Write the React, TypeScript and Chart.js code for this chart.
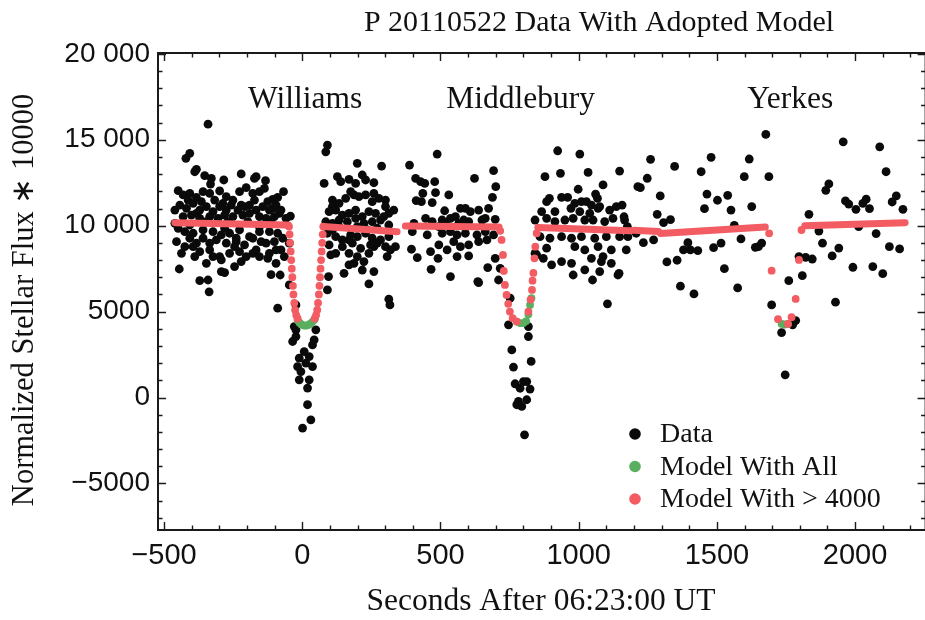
import React, { useEffect, useRef } from 'react';
import { Chart, registerables } from 'chart.js';

Chart.register(...registerables);

type Pt = [number, number];

// ---------- text ----------
const TITLE = 'P 20110522 Data With Adopted Model';
const X_TITLE = 'Seconds After 06:23:00 UT';
const Y_TITLE = 'Normalized Stellar Flux \u2217 10000';
const stationNames = ['Williams', 'Middlebury', 'Yerkes'];
const stationLabelX = [10, 790, 1765];
const stationLabelY = 16850;
const legendLabels = ['Data', 'Model With All', 'Model With > 4000'];

// ---------- axes ----------
const xRange = [-522, 2255];
const yRange = [-7710, 20050];
const xTickValues = [-500, 0, 500, 1000, 1500, 2000];
const xTickLabels = ['\u2212500', '0', '500', '1000', '1500', '2000'];
const yTickValues = [-5000, 0, 5000, 10000, 15000, 20000];
const yTickLabels = ['\u22125000', '0', '5000', '10 000', '15 000', '20 000'];
const xMinorStep = 100;
const yMinorStep = 1000;

// ---------- data: seconds, normalized flux ----------
const williamsData: Pt[] = [
  [-341, 15910], [-407, 14210], [-421, 13920], [-383, 13280], [-389, 13140], [-353, 12910], [-329, 12750], [-332, 12420], [-284, 12660], [-221, 13010], [-173, 12750], [-167, 12850], [-133, 12620],
  [-449, 12040], [-431, 11790], [-407, 11880], [-383, 11650], [-359, 11980], [-335, 11880], [-299, 12020], [-275, 11690], [-251, 11490], [-227, 11980], [-203, 12210], [-179, 11880], [-155, 11980], [-137, 12170], [-107, 11530], [-89, 11650], [-68, 11980],
  [-413, 11490], [-365, 11400], [-317, 11490], [-287, 11300], [-221, 11200], [-173, 11490], [-125, 11400], [-107, 11010],
  [-443, 11200], [-419, 11010], [-395, 11300], [-371, 10910], [-347, 11110], [-323, 10820], [-299, 11110], [-275, 10910], [-257, 11200], [-233, 10910], [-209, 11110], [-191, 11200], [-167, 10910], [-143, 11110], [-119, 10910], [-95, 11200], [-77, 10910],
  [-461, 10910], [-383, 10720], [-83, 10720],
  [-431, 10530], [-401, 10620], [-371, 10430], [-335, 10530], [-305, 10430], [-281, 10620], [-251, 10530], [-215, 10620], [-191, 10720], [-155, 10530], [-131, 10430], [-101, 10530], [-59, 10430], [-43, 10560],
  [-347, 10240], [-269, 10240], [-197, 10240], [-113, 10240], [-461, 10140], [-407, 10040],
  [-449, 9850], [-425, 9650], [-395, 9560], [-359, 9750], [-323, 9650], [-293, 9460], [-263, 9560], [-227, 9750], [-191, 9360], [-155, 9650], [-119, 9650], [-89, 9560], [-281, 9850], [-155, 9940],
  [-455, 9070], [-407, 9270], [-383, 8980], [-335, 8980], [-311, 9170], [-275, 8980], [-239, 9070], [-209, 8880], [-179, 9270], [-131, 8980], [-101, 9070], [-71, 9270], [-47, 8980], [-239, 9270], [-359, 9270], [-149, 9070],
  [-437, 8390], [-395, 8780], [-371, 8490], [-335, 8590], [-299, 8200], [-263, 8390], [-227, 8490], [-203, 8200], [-179, 8390], [-155, 8200], [-119, 8390], [-95, 8590], [-65, 8200], [-425, 8780], [-245, 8780], [-167, 8590], [-323, 8200], [-77, 8590],
  [-389, 8200], [-347, 7810], [-293, 8010], [-221, 7910], [-125, 8100], [-95, 7810],
  [-445, 7480], [-245, 7620], [-293, 7330], [-281, 7270], [-113, 7150], [-80, 7130],
  [-371, 6800], [-341, 6840], [-337, 6150], [-89, 5200], [-47, 6550], [-23, 5390],
  [-29, 4130], [-23, 3940], [-35, 3260], [-23, 3550], [49, 3940], [43, 3360], [37, 3060], [7, 2670], [-11, 2290], [25, 2380], [-17, 1800], [13, 2000], [37, 1800], [-5, 1510], [-11, 1030], [25, 1030], [19, 550], [19, -420], [31, -1300], [1, -1780],
  [91, 14690], [85, 14300], [199, 13630], [287, 13470], [79, 12460], [127, 12850], [139, 12560], [169, 12700], [193, 12460], [217, 12950], [229, 12660], [259, 12500], [175, 11980], [187, 11790], [109, 11490], [133, 11300], [157, 11590], [205, 11690], [229, 11790], [259, 11880], [277, 11590], [301, 11490], [331, 10910], [253, 11400], [301, 11110], [109, 11110],
  [97, 10820], [121, 10910], [145, 10620], [169, 10720], [193, 10910], [217, 10530], [241, 10820], [265, 10720], [295, 10530], [313, 10720],
  [85, 10230], [109, 10140], [133, 10330], [163, 10230], [193, 10430], [223, 10140], [253, 10230], [283, 10330], [313, 10040], [133, 9940], [199, 9940], [271, 9850], [109, 9750], [235, 9750],
  [91, 9560], [121, 9360], [145, 9170], [175, 9460], [199, 9360], [229, 9560], [253, 9270], [283, 9170], [313, 9360], [169, 9170],
  [97, 8880], [145, 8780], [181, 8980], [211, 8680], [247, 8880], [271, 8980], [319, 8590], [337, 8780], [259, 8780], [301, 8780],
  [103, 8300], [169, 8390], [199, 8200], [241, 8390], [307, 8200], [121, 8390],
  [169, 7720], [187, 7810], [151, 7230], [217, 7420], [259, 7330], [223, 7910],
  [95, 7040], [91, 6260], [241, 6610], [313, 5720], [317, 5390],
];

const middleburyData: Pt[] = [
  [488, 14170], [388, 13530], [692, 13200], [410, 12750], [428, 12560], [443, 12460], [479, 12560], [623, 12750], [700, 12270],
  [436, 11880], [412, 11460], [431, 11400], [482, 11920], [530, 11790], [470, 11340], [688, 11650],
  [572, 11010], [590, 11010], [608, 10820], [638, 10910], [674, 11010], [515, 10870],
  [446, 10430], [506, 10330], [536, 10430], [554, 10530], [584, 10330], [662, 10430], [698, 10370],
  [404, 10140], [470, 10240], [494, 9940], [518, 10140], [566, 10140], [602, 10240], [650, 10330],
  [398, 9650], [452, 9460], [506, 9560], [536, 9650], [560, 9460], [590, 9560], [632, 9460], [662, 9650], [692, 9460],
  [494, 8880], [524, 8590], [548, 9070], [572, 8780], [602, 8880], [638, 9070], [668, 9170],
  [395, 8630], [464, 8490], [491, 8100], [560, 8200], [602, 8240], [416, 8140], [466, 7460],
  [536, 7040], [635, 6750], [671, 7560], [710, 6840], [698, 8100], [716, 7520], [638, 6690],
  [752, 5780], [746, 4230], [818, 4130], [818, 3550], [758, 2770], [828, 2100], [764, 1770], [770, 800], [788, 540], [800, 930], [812, 930], [824, 490], [782, -230], [776, -420], [794, -520], [812, -130], [804, -2170],
  [924, 14360], [1004, 14170], [934, 13050], [1034, 13100], [1148, 13180], [878, 12850],
  [998, 12120], [1088, 12370], [1061, 11840], [1068, 11590], [1214, 12270],
  [894, 11590], [884, 11400], [938, 11650], [960, 11650], [986, 11300], [1010, 11400], [1028, 11400], [1046, 11200], [1076, 11110], [1136, 11110], [1157, 11200],
  [866, 10820], [914, 10820], [972, 11010], [1004, 10820], [1040, 10720], [1070, 11010], [1112, 10910],
  [842, 10330], [884, 10430], [914, 10240], [950, 10330], [980, 10430], [1022, 10330], [1052, 10330], [1094, 10240], [1124, 10430], [1166, 10330], [1164, 10520], [1176, 9940],
  [860, 9360], [896, 9270], [938, 9360], [974, 9270], [1010, 9360], [1058, 9270], [1100, 9360], [1148, 9360], [1178, 9360],
  [884, 8690], [986, 8780], [1022, 8590], [1070, 8780], [1118, 8590], [1172, 8590],
  [842, 8390], [848, 8300], [872, 8100], [938, 7910], [974, 7810], [1046, 8100], [1088, 8200], [1118, 7810],
  [902, 7720], [980, 7130], [1022, 7430], [1076, 7330], [1082, 7910], [1146, 7230],
  [1050, 6840], [1142, 7130], [1104, 5450],
];

const yerkesData: Pt[] = [
  [1677, 15310], [1957, 14880], [2089, 14590], [1260, 13860], [1479, 13980], [1617, 13880], [1347, 13450], [1443, 13140], [2112, 13140], [1599, 12850], [1688, 12850], [1248, 12760], [1223, 12210], [1905, 12430], [1894, 12060],
  [1295, 11730], [1464, 11840], [1539, 11770], [1502, 11480], [1965, 11440], [1977, 11260], [2040, 11540], [2028, 11300], [2149, 11740], [2134, 11380],
  [2003, 10950], [2052, 10990], [2173, 10950], [1455, 10990], [1551, 10910], [1626, 11110], [1284, 10660], [1833, 10660], [1307, 10180], [1332, 10350], [1563, 10020],
  [1869, 9690], [1208, 9560], [2013, 9940], [2076, 9540], [1234, 9010], [1271, 9170], [1395, 9010], [1379, 8590], [1404, 8590], [1431, 8550], [1488, 8720], [1515, 8990], [1587, 9230], [1639, 8740], [1650, 8780], [1662, 8990], [1882, 8980], [1941, 8700], [2124, 8780], [2161, 8650],
  [1319, 7890], [1356, 7990], [1797, 8200], [1821, 8160], [1845, 8060], [1917, 8240], [1527, 7500], [1992, 7580], [2064, 7620], [2100, 7210], [1809, 7090], [1760, 6800],
  [1368, 6480], [1575, 6380], [1417, 6030], [1929, 5550], [1698, 5390], [1785, 4480], [1734, 3780], [1774, 4230], [1747, 1320],
];

// model fitted with flux > 4000 (red): continuous baseline runs and dip points
const redBaseWilliamsLeft: Pt[] = [[-461, 10175], [-50, 10040]];
const redBaseWilliamsRight: Pt[] = [[76, 9950], [343, 9650]];
const redBaseMiddleburyLeft: Pt[] = [[373, 9980], [712, 9920]];
const redBaseMiddleburyRight: Pt[] = [[852, 9900], [1186, 9700]];
const redBaseMiddle: Pt[] = [[1200, 9730], [1289, 9660]];
const redBaseYerkesLeft: Pt[] = [[1296, 9540], [1675, 9920]];
const redBaseYerkesRight: Pt[] = [[1818, 9990], [2181, 10175]];

const redDipWilliams: Pt[] = [
  [-48, 9950], [-46, 9500], [-44, 9000], [-42, 8500], [-40, 8000], [-38, 7500], [-36, 7000], [-34, 6500], [-32, 6000], [-29, 5500], [-26, 5100], [-22, 4800], [-17, 4600],
  [45, 4600], [50, 4800], [54, 5100], [57, 5500], [60, 6000], [62, 6500], [64, 7000], [66, 7500], [68, 8000], [70, 8500], [72, 9000], [74, 9500], [76, 9950],
];
const redDipMiddlebury: Pt[] = [
  [716, 9700], [721, 9170], [726, 8300], [729, 7370], [733, 6550], [739, 5970], [745, 5450], [751, 5000], [761, 4620], [776, 4420],
  [818, 5000], [826, 5700], [831, 6260], [833, 6800], [836, 7250], [840, 8100], [843, 8780], [848, 9560],
];
const redDipYerkes: Pt[] = [
  [1689, 9558], [1698, 7384], [1721, 4558], [1757, 4285], [1770, 4675], [1785, 5738], [1797, 8006], [1806, 9750],
];

// model fitted with all points (green): visible where it departs from the red one
const greenDip: Pt[] = [
  [-17, 4500], [-10, 4350], [-3, 4250], [4, 4200], [11, 4180], [18, 4200], [25, 4250], [32, 4330], [39, 4450], [45, 4550],
  [776, 4420], [788, 4330], [800, 4330], [810, 4450], [818, 4850], [824, 5390], [829, 5780],
  [1734, 4290], [1745, 4250], [1757, 4285],
];

// ---------- styling ----------
const SERIF = '"Liberation Serif", "Times New Roman", Times, serif';
const SANS = '"Liberation Sans", Arial, Helvetica, sans-serif';
const RED = '#f25c62';
const GREEN = '#5aae5f';
const BLACK = '#0a0a0a';

const toXY = (pts: Pt[]) => pts.map(([x, y]) => ({ x, y }));

const decorPlugin = {
  id: 'decor',
  afterDatasetsDraw(chart: any) {
    const { ctx, chartArea, scales } = chart;
    const { left, right, top, bottom } = chartArea;
    const xs = scales.x;
    const ys = scales.y;
    ctx.save();
    ctx.strokeStyle = '#1a1a1a';
    ctx.lineWidth = 2;
    ctx.strokeRect(left, top, right - left, bottom - top);
    ctx.lineWidth = 1.4;
    ctx.beginPath();
    const x0 = Math.ceil(xRange[0] / xMinorStep) * xMinorStep;
    for (let v = x0; v <= xRange[1]; v += xMinorStep) {
      const px = Math.round(xs.getPixelForValue(v)) + 0.5;
      const len = v % 500 === 0 ? 8 : 4.5;
      ctx.moveTo(px, bottom);
      ctx.lineTo(px, bottom - len);
      ctx.moveTo(px, top);
      ctx.lineTo(px, top + len);
    }
    const y0 = Math.ceil(yRange[0] / yMinorStep) * yMinorStep;
    for (let v = y0; v <= yRange[1]; v += yMinorStep) {
      const py = Math.round(ys.getPixelForValue(v)) + 0.5;
      const len = v % 5000 === 0 ? 8 : 4.5;
      ctx.moveTo(left, py);
      ctx.lineTo(left + len, py);
      ctx.moveTo(right, py);
      ctx.lineTo(right - len, py);
    }
    ctx.stroke();
    ctx.restore();
  },
  afterDraw(chart: any) {
    const { ctx, chartArea, scales } = chart;
    const xs = scales.x;
    const ys = scales.y;
    ctx.save();
    ctx.fillStyle = '#111';
    ctx.textAlign = 'center';
    ctx.textBaseline = 'alphabetic';
    // title
    ctx.font = `30px ${SERIF}`;
    ctx.fillText(TITLE, 599, 31);
    // x title
    ctx.font = `31.5px ${SERIF}`;
    ctx.fillText(X_TITLE, 541, 610);
    // y title
    ctx.save();
    ctx.font = `30.5px ${SERIF}`;
    ctx.translate(33, 300);
    ctx.rotate(-Math.PI / 2);
    ctx.fillText(Y_TITLE, 0, 0);
    ctx.restore();
    // station labels
    ctx.font = `31.5px ${SERIF}`;
    stationNames.forEach((name, i) => {
      ctx.fillText(name, xs.getPixelForValue(stationLabelX[i]), ys.getPixelForValue(stationLabelY));
    });
    // legend
    const colors = [BLACK, GREEN, RED];
    const lx = chartArea.left + 477;
    const ly = chartArea.top + 381;
    ctx.font = `28px ${SERIF}`;
    ctx.textAlign = 'left';
    ctx.textBaseline = 'middle';
    legendLabels.forEach((label, i) => {
      const cy = ly + i * 32.5;
      ctx.fillStyle = colors[i];
      ctx.beginPath();
      ctx.arc(lx, cy, 5.8, 0, Math.PI * 2);
      ctx.fill();
      ctx.fillStyle = '#111';
      ctx.fillText(label, lx + 25, cy + 1);
    });
    ctx.restore();
  },
};

export default function App() {
  const canvasRef = useRef<HTMLCanvasElement | null>(null);

  useEffect(() => {
    const canvas = canvasRef.current;
    if (!canvas) return;
    const baseSegments = [
      redBaseWilliamsLeft, redBaseWilliamsRight, redBaseMiddleburyLeft, redBaseMiddleburyRight,
      redBaseMiddle, redBaseYerkesLeft, redBaseYerkesRight,
    ];
    const datasets: any[] = [
      ...baseSegments.map((seg) => ({
        label: 'Model With > 4000',
        data: toXY(seg),
        showLine: true,
        borderColor: RED,
        borderWidth: 7,
        borderCapStyle: 'round',
        pointRadius: 0,
        order: 0,
      })),
      {
        label: 'Model With > 4000',
        data: toXY([...redDipWilliams, ...redDipMiddlebury, ...redDipYerkes]),
        pointRadius: 3.9,
        pointBackgroundColor: RED,
        pointBorderWidth: 0,
        order: 0,
      },
      {
        label: 'Model With All',
        data: toXY(greenDip),
        pointRadius: 3.9,
        pointBackgroundColor: GREEN,
        pointBorderWidth: 0,
        order: 1,
      },
      {
        label: 'Data',
        data: toXY([...williamsData, ...middleburyData, ...yerkesData]),
        pointRadius: 4.4,
        pointBackgroundColor: BLACK,
        pointBorderWidth: 0,
        order: 2,
      },
    ];

    const chart = new Chart(canvas, {
      type: 'scatter',
      data: { datasets },
      options: {
        responsive: false,
        animation: false,
        events: [],
        devicePixelRatio: 1,
        layout: { padding: { top: 53, right: 3, bottom: 0, left: 0 } },
        plugins: { legend: { display: false }, tooltip: { enabled: false }, title: { display: false } },
        scales: {
          x: {
            type: 'linear',
            min: xRange[0],
            max: xRange[1],
            grid: { display: false, drawTicks: false },
            border: { display: false },
            afterBuildTicks: (s: any) => { s.ticks = xTickValues.map((v) => ({ value: v })); },
            afterFit: (s: any) => { s.height = 90; },
            ticks: {
              autoSkip: false,
              maxRotation: 0,
              padding: 9,
              color: '#111',
              font: { family: SANS, size: 29 },
              callback: (v: any) => xTickLabels[xTickValues.indexOf(Number(v))] ?? '',
            },
          },
          y: {
            type: 'linear',
            min: yRange[0],
            max: yRange[1],
            grid: { display: false, drawTicks: false },
            border: { display: false },
            afterBuildTicks: (s: any) => { s.ticks = yTickValues.map((v) => ({ value: v })); },
            afterFit: (s: any) => { s.width = 158; },
            ticks: {
              autoSkip: false,
              padding: 8,
              color: '#111',
              font: { family: SANS, size: 28 },
              callback: (v: any) => yTickLabels[yTickValues.indexOf(Number(v))] ?? '',
            },
          },
        },
      },
      plugins: [decorPlugin],
    });
    return () => chart.destroy();
  }, []);

  return (
    <div style={{ position: 'fixed', left: 0, top: 0, width: 925, height: 620, overflow: 'hidden', background: '#fff' }}>
      <canvas ref={canvasRef} width={930} height={620} style={{ width: 930, height: 620, display: 'block' }} />
    </div>
  );
}
